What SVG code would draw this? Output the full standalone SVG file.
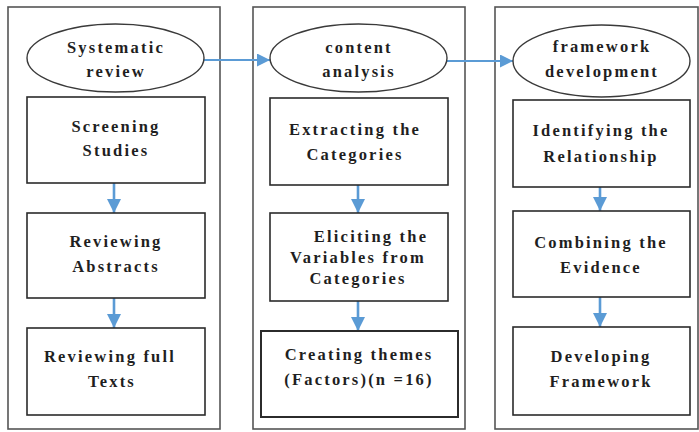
<svg xmlns="http://www.w3.org/2000/svg" width="699" height="432" viewBox="0 0 699 432">
<defs>
<style>
.panel{fill:#fff;stroke:#555;stroke-width:1.6}
.box{fill:#fff;stroke:#2b2b2b;stroke-width:1.6}
.ell{fill:#fff;stroke:#3a3a3a;stroke-width:1.4}
.t{font-family:"Liberation Serif","Times New Roman",serif;font-size:16.5px;font-weight:bold;letter-spacing:2.2px;fill:#1f1f1f;text-anchor:middle}
.arr{stroke:#5b9bd5;stroke-width:2.6;fill:none}
.harr{stroke:#5b9bd5;stroke-width:2;fill:none}
</style>
<marker id="hd" viewBox="0 0 10 10" refX="10" refY="5" markerWidth="5.5" markerHeight="5.5" orient="auto" markerUnits="strokeWidth">
<path d="M0,0 L10,5 L0,10 Z" fill="#5b9bd5"/>
</marker>
<marker id="hh" viewBox="0 0 10 10" refX="10" refY="5" markerWidth="6.5" markerHeight="6.5" orient="auto" markerUnits="strokeWidth">
<path d="M0,0 L10,5 L0,10 Z" fill="#5b9bd5"/>
</marker>
</defs>
<rect width="699" height="432" fill="#fff"/>
<g id="panels">
<rect class="panel" x="8" y="7" width="212" height="422"/>
<rect class="panel" x="253" y="7" width="212" height="422"/>
<rect class="panel" x="495" y="7" width="203" height="422"/>
</g>
<g id="connectors">
<line class="harr" x1="204" y1="60" x2="270" y2="60" marker-end="url(#hh)"/>
<line class="harr" x1="447" y1="61" x2="513" y2="61" marker-end="url(#hh)"/>
<line class="arr" x1="114" y1="183" x2="114" y2="213" marker-end="url(#hd)"/>
<line class="arr" x1="114" y1="298" x2="114" y2="328" marker-end="url(#hd)"/>
<line class="arr" x1="358" y1="185" x2="358" y2="213" marker-end="url(#hd)"/>
<line class="arr" x1="358" y1="301" x2="358" y2="331" marker-end="url(#hd)"/>
<line class="arr" x1="600" y1="187" x2="600" y2="211" marker-end="url(#hd)"/>
<line class="arr" x1="600" y1="297" x2="600" y2="327" marker-end="url(#hd)"/>
</g>
<g id="n-systematic">
<ellipse class="ell" cx="115.5" cy="58" rx="88.5" ry="34"/>
<text class="t" x="116" y="53">Systematic</text>
<text class="t" x="116" y="77">review</text>
</g>
<g id="n-screening">
<rect class="box" x="27" y="97" width="178" height="86"/>
<text class="t" x="116" y="132">Screening</text>
<text class="t" x="116" y="156">Studies</text>
</g>
<g id="n-abstracts">
<rect class="box" x="27" y="213" width="178" height="85"/>
<text class="t" x="116" y="247">Reviewing</text>
<text class="t" x="116" y="272">Abstracts</text>
</g>
<g id="n-fulltexts">
<rect class="box" x="27" y="328" width="178" height="87"/>
<text class="t" x="110" y="362">Reviewing full</text>
<text class="t" x="112" y="387">Texts</text>
</g>
<g id="n-content">
<ellipse class="ell" cx="358.5" cy="58" rx="88.5" ry="34"/>
<text class="t" x="359" y="53">content</text>
<text class="t" x="359" y="77">analysis</text>
</g>
<g id="n-extracting">
<rect class="box" x="270" y="98" width="178" height="87"/>
<text class="t" x="355" y="135">Extracting the</text>
<text class="t" x="355" y="160">Categories</text>
</g>
<g id="n-eliciting">
<rect class="box" x="270" y="213" width="178" height="88"/>
<text class="t" x="371" y="242">Eliciting the</text>
<text class="t" x="358" y="263">Variables from</text>
<text class="t" x="358" y="284">Categories</text>
</g>
<g id="n-themes">
<rect class="box" x="261" y="331" width="197" height="86" style="stroke-width:2"/>
<text class="t" x="359" y="360">Creating themes</text>
<text class="t" x="359" y="385">(Factors)(n =16)</text>
</g>
<g id="n-framework">
<ellipse class="ell" cx="601.5" cy="61" rx="88.5" ry="36"/>
<text class="t" x="602" y="52">framework</text>
<text class="t" x="602" y="77">development</text>
</g>
<g id="n-identifying">
<rect class="box" x="513" y="100" width="177" height="87"/>
<text class="t" x="601" y="136">Identifying the</text>
<text class="t" x="601" y="162">Relationship</text>
</g>
<g id="n-combining">
<rect class="box" x="513" y="211" width="177" height="86"/>
<text class="t" x="601" y="248">Combining the</text>
<text class="t" x="601" y="273">Evidence</text>
</g>
<g id="n-developing">
<rect class="box" x="513" y="327" width="177" height="88"/>
<text class="t" x="601" y="362">Developing</text>
<text class="t" x="601" y="387">Framework</text>
</g>
</svg>
